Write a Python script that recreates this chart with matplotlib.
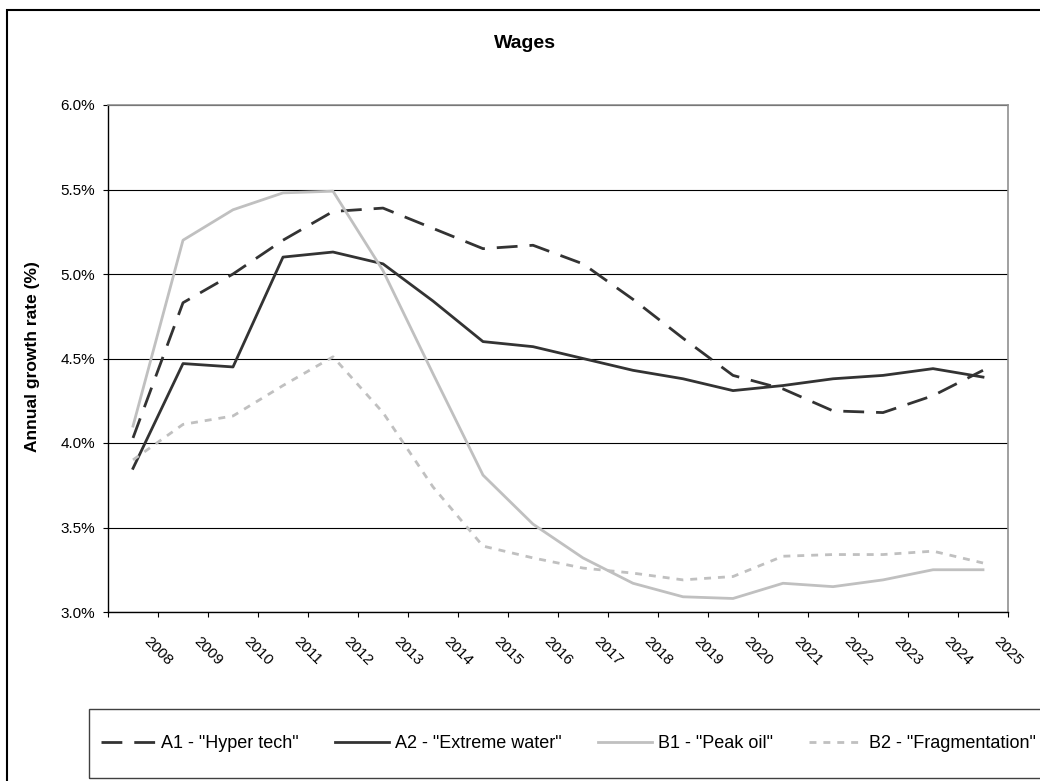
import numpy as np
import matplotlib
matplotlib.use("Agg")
import matplotlib.pyplot as plt
import matplotlib.transforms as mtransforms
from matplotlib.patches import Rectangle
from matplotlib.ticker import PercentFormatter

plt.rcParams['font.family'] = ['Liberation Sans', 'DejaVu Sans']

years = [str(y) for y in range(2008, 2026)]
a1_hyper_tech = [4.03, 4.83, 5.00, 5.20, 5.37, 5.39, 5.27, 5.15, 5.17, 5.06,
                 4.85, 4.62, 4.40, 4.32, 4.19, 4.18, 4.28, 4.43]
a2_extreme_water = [3.85, 4.47, 4.45, 5.10, 5.13, 5.06, 4.84, 4.60, 4.57, 4.50,
                    4.43, 4.38, 4.31, 4.34, 4.38, 4.40, 4.44, 4.39]
b1_peak_oil = [4.10, 5.20, 5.38, 5.48, 5.49, 5.02, 4.41, 3.81, 3.52, 3.32,
               3.17, 3.09, 3.08, 3.17, 3.15, 3.19, 3.25, 3.25]
b2_fragmentation = [3.90, 4.11, 4.16, 4.34, 4.51, 4.18, 3.74, 3.39, 3.32, 3.26,
                    3.23, 3.19, 3.21, 3.33, 3.34, 3.34, 3.36, 3.29]

W, H = 1040, 781
fig = plt.figure(figsize=(W / 100, H / 100), dpi=100)
ax = fig.add_axes([108 / W, 1 - 612 / H, 900 / W, 507 / H])

x = np.arange(len(years))
dark = '#333333'
light = '#c0c0c0'
ax.plot(x, a1_hyper_tech, color=dark, lw=2, linestyle=(0, (7.5, 4.3)),
        label='A1 - "Hyper tech"')
ax.plot(x, a2_extreme_water, color=dark, lw=2, label='A2 - "Extreme water"')
ax.plot(x, b1_peak_oil, color=light, lw=2, label='B1 - "Peak oil"')
ax.plot(x, b2_fragmentation, color=light, lw=2, linestyle=(0, (2.5, 2.5)),
        label='B2 - "Fragmentation"')

ax.set_xlim(-0.5, len(years) - 0.5)
ax.set_ylim(3.0, 6.0)
ax.set_yticks(np.arange(3.0, 6.01, 0.5))
ax.yaxis.set_major_formatter(PercentFormatter(xmax=100, decimals=1))
ax.yaxis.grid(True, color='black', lw=0.8)
ax.tick_params(axis='y', length=3.6, width=0.8, pad=5.5, labelsize=11)

# ticks between categories, labels at centres
ax.set_xticks(x)
ax.set_xticklabels(years)
ax.set_xticks(np.arange(-0.5, len(years), 1), minor=True)
ax.tick_params(axis='x', which='major', length=0, pad=19.5, labelsize=11)
ax.tick_params(axis='x', which='minor', length=3.6, width=0.8)
offset = mtransforms.ScaledTranslation(13 / 100, 0, fig.dpi_scale_trans)
for lab in ax.get_xticklabels():
    lab.set_rotation(-45)
    lab.set_ha('left')
    lab.set_va('center')
    lab.set_rotation_mode('anchor')
    lab.set_transform(lab.get_transform() + offset)

for s in ['left', 'bottom']:
    ax.spines[s].set_color('black')
    ax.spines[s].set_linewidth(1)
for s in ['top', 'right']:
    ax.spines[s].set_color('#909090')
    ax.spines[s].set_linewidth(1.2)

fig.text(33 / W, 1 - 357 / H, 'Annual growth rate (%)', rotation=90,
         ha='center', va='center', fontsize=12.5, fontweight='bold')
fig.text(525 / W, 1 - 44 / H, 'Wages', ha='center', va='center',
         fontsize=14, fontweight='bold')

# legend
fig.legend(loc='center left', bbox_to_anchor=(101 / W, 1 - 744 / H), ncol=4,
           frameon=False, fontsize=13, handlelength=3.0, handletextpad=0.33,
           columnspacing=2.0, borderpad=0, borderaxespad=0)
fig.add_artist(Rectangle((89 / W, 1 - 778 / H), 1.0, 69 / H, transform=fig.transFigure,
                         fill=False, edgecolor='#404040', lw=1))

# chart border
fig.add_artist(Rectangle((7 / W, -0.05), 1.2, (H - 10) / H + 0.05,
                         transform=fig.transFigure, fill=False,
                         edgecolor='black', lw=1.5))

plt.savefig("out.png", dpi=100)
